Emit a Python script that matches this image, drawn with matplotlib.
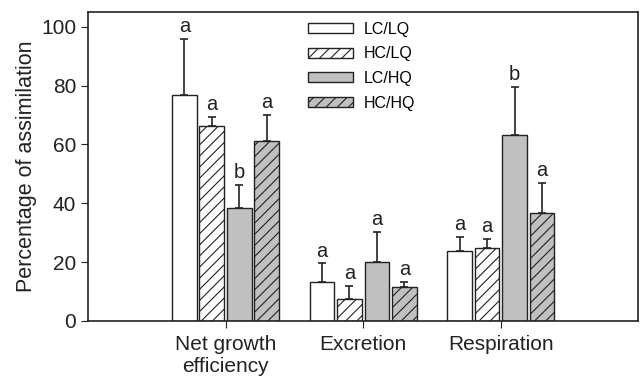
import numpy as np
import matplotlib
matplotlib.use('Agg')
import matplotlib.pyplot as plt

plt.rcParams['font.family'] = ['Liberation Sans', 'DejaVu Sans']
plt.rcParams['hatch.linewidth'] = 0.8
plt.rcParams['hatch.color'] = '#222222'

categories = ['Net growth\nefficiency', 'Excretion', 'Respiration']
series = ['LC/LQ', 'HC/LQ', 'LC/HQ', 'HC/HQ']

lc_lq = [76.8, 13.2, 23.7]
hc_lq = [66.4, 7.5, 24.6]
lc_hq = [38.4, 20.1, 63.3]
hc_hq = [61.2, 11.4, 36.5]

lc_lq_err = [18.9, 6.3, 4.9]
hc_lq_err = [2.9, 4.4, 3.1]
lc_hq_err = [7.8, 10.2, 16.1]
hc_hq_err = [8.8, 1.8, 10.5]

lc_lq_sig = ['a', 'a', 'a']
hc_lq_sig = ['a', 'a', 'a']
lc_hq_sig = ['b', 'a', 'b']
hc_hq_sig = ['a', 'a', 'a']

values = [lc_lq, hc_lq, lc_hq, hc_hq]
errors = [lc_lq_err, hc_lq_err, lc_hq_err, hc_hq_err]
letters = [lc_lq_sig, hc_lq_sig, lc_hq_sig, hc_hq_sig]
fills = ['white', 'white', '#c0c0c0', '#c0c0c0']
hatches = ['', '///', '', '///']

fig = plt.figure(figsize=(6.4, 3.77), dpi=100)
ax = fig.add_axes([0.1375, 0.149, 0.86, 0.819])

x = np.arange(1, len(categories) + 1)
width = 0.18
offsets = [-0.3, -0.1, 0.1, 0.3]
ink = '#222222'

for i in range(4):
    pos = x + offsets[i]
    ax.bar(pos, values[i], width, color=fills[i], edgecolor=ink,
           hatch=hatches[i], linewidth=1.0, label=series[i], zorder=2)
    ax.errorbar(pos, values[i], yerr=[np.zeros(3), errors[i]], fmt='none',
                ecolor=ink, elinewidth=1.2, capsize=2.6, capthick=1.2, zorder=3)
    for p, v, e, t in zip(pos, values[i], errors[i], letters[i]):
        ax.text(p, v + e + 1.0, t, ha='center', va='bottom', fontsize=14.5, color=ink)

ax.set_xlim(0, 4)
ax.set_ylim(0, 105)
ax.set_yticks([0, 20, 40, 60, 80, 100])
ax.set_xticks(x)
ax.set_xticklabels(categories, fontsize=15, color=ink, linespacing=1.25)
ax.tick_params(axis='y', labelsize=15, labelcolor=ink, direction='out', length=5, color=ink)
ax.tick_params(axis='x', direction='out', length=5, color=ink, pad=5)
ax.set_ylabel('Percentage of assimilation', fontsize=15.5, color=ink, labelpad=3)
for s in ax.spines.values():
    s.set_color(ink)
    s.set_linewidth(1.2)

ax.legend(loc='upper left', bbox_to_anchor=(0.374, 1.015), frameon=False, fontsize=11.5,
          handlelength=2.8, handleheight=0.6, labelspacing=0.6, handletextpad=0.7)

fig.savefig('out.png', dpi=100)
